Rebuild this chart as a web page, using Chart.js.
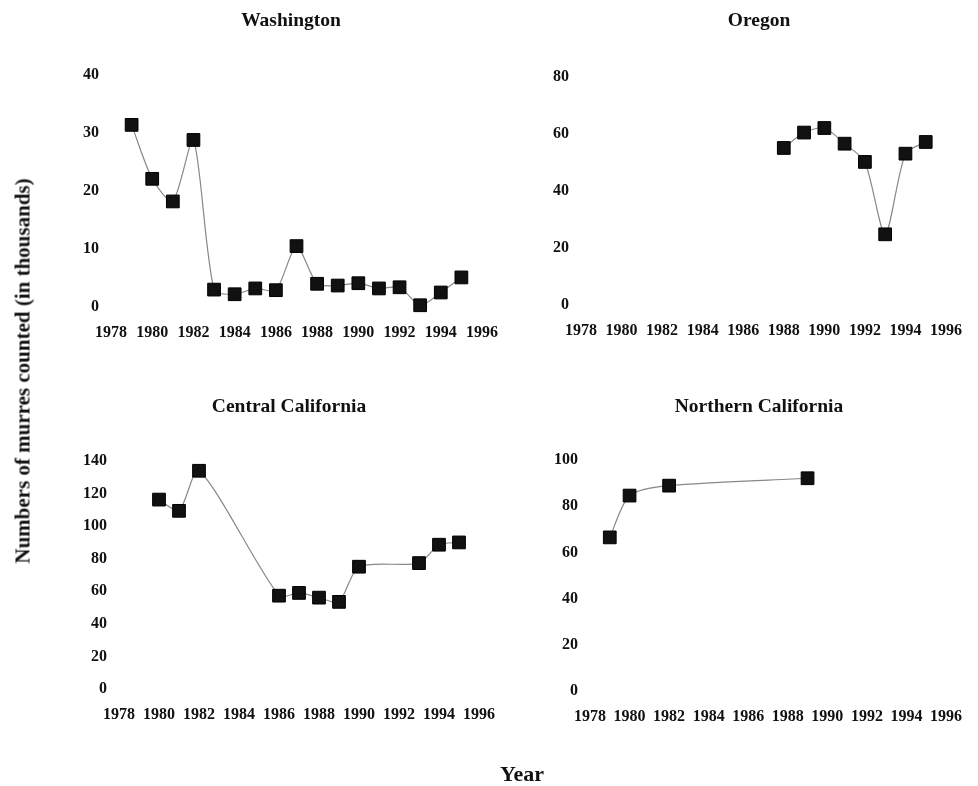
<!DOCTYPE html>
<html>
<head>
<meta charset="utf-8">
<script src="https://cdn.jsdelivr.net/npm/chart.js@4.4.1/dist/chart.umd.min.js"></script>
<style>
  body { margin: 0; background: #fff; }
  #page { position: relative; width: 978px; height: 786px; overflow: hidden; }
  canvas { position: absolute; left: 0; top: 0; }
  .txt { position: absolute; font-family: "Liberation Serif", "DejaVu Serif", serif; font-weight: bold; color: #111; white-space: nowrap; }
  .title { font-size: 19.5px; transform: translate(-50%, -50%); }
</style>
</head>
<body>
<div id="page">
  <canvas id="wa" width="978" height="786"></canvas>
  <canvas id="or" width="978" height="786"></canvas>
  <canvas id="cc" width="978" height="786"></canvas>
  <canvas id="nc" width="978" height="786"></canvas>

  <div class="txt title" style="left:291px; top:20px;">Washington</div>
  <div class="txt title" style="left:759px; top:20px;">Oregon</div>
  <div class="txt title" style="left:289px; top:406px;">Central California</div>
  <div class="txt title" style="left:759px; top:406px;">Northern California</div>

  <div class="txt" style="left:23px; top:371px; font-size:21px; transform: translate(-50%, -50%) rotate(-90deg);">Numbers of murres counted (in thousands)</div>
  <div class="txt" style="left:522px; top:774px; font-size:22px; transform: translate(-50%, -50%);">Year</div>
</div>

<script>
// years on the x axis
var yearMin = 1978;
var yearMax = 1996;
var yearStep = 2;

// Washington
var waYears = [1979, 1980, 1981, 1982, 1983, 1984, 1985, 1986, 1987, 1988, 1989, 1990, 1991, 1992, 1993, 1994, 1995];
var waCounts = [31.4, 22.1, 18.2, 28.8, 3.0, 2.2, 3.2, 2.9, 10.5, 4.0, 3.7, 4.1, 3.2, 3.4, 0.3, 2.5, 5.1];

// Oregon
var orYears = [1988, 1989, 1990, 1991, 1992, 1993, 1994, 1995];
var orCounts = [55.1, 60.5, 62.1, 56.6, 50.2, 24.8, 53.1, 57.2];

// Central California
var ccYears = [1980, 1981, 1982, 1986, 1987, 1988, 1989, 1990, 1993, 1994, 1995];
var ccCounts = [116.3, 109.4, 134.0, 57.3, 59.0, 56.1, 53.5, 75.1, 77.3, 88.6, 90.0];

// Northern California
var ncYears = [1979, 1980, 1982, 1989];
var ncCounts = [66.5, 84.6, 88.9, 92.1];

var W = 978, H = 786;
var yAxisW = 60, xAxisH = 40;
var tickFont = { family: '"Liberation Serif", "DejaVu Serif", serif', size: 16, weight: 'bold' };

function pairs(xs, ys) {
    var pts = [];
    for (var i in xs) {
        pts.push({ x: xs[i], y: ys[i] });
    }
    return pts;
}

// box = where the plot area sits on the page: left, top, right, bottom
function panel(id, xs, ys, yMax, yStep, box)
{
    new Chart(document.getElementById(id), {
        type: 'line',
        data: {
            datasets: [{
                data: pairs(xs, ys),
                borderColor: '#888',
                borderWidth: 1.2,
                tension: 0.25,
                pointStyle: 'rect',
                pointRadius: 9,
                pointHoverRadius: 9,
                pointBackgroundColor: '#111',
                pointBorderColor: '#000',
                pointBorderWidth: 1
            }]
        },
        options: {
            responsive: false,
            animation: false,
            clip: false,
            layout: {
                padding: {
                    left: box[0] - yAxisW,
                    top: box[1],
                    right: W - box[2],
                    bottom: H - box[3] - xAxisH
                }
            },
            plugins: { legend: { display: false }, tooltip: { enabled: false } },
            scales: {
                x: {
                    type: 'linear',
                    min: yearMin,
                    max: yearMax,
                    grid: { display: false, drawTicks: false },
                    border: { display: false },
                    ticks: { stepSize: yearStep, padding: 16, color: '#111', font: tickFont, maxRotation: 0, callback: function (v) { return String(v); } },
                    afterFit: function (s) { s.height = xAxisH; }
                },
                y: {
                    min: 0,
                    max: yMax,
                    grid: { display: false, drawTicks: false },
                    border: { display: false },
                    ticks: { stepSize: yStep, padding: 12, color: '#111', font: tickFont },
                    afterFit: function (s) { s.width = yAxisW; }
                }
            }
        }
    });
}

panel('wa', waYears, waCounts, 40, 10, [111, 75, 482, 307]);
panel('or', orYears, orCounts, 80, 20, [581, 77, 948, 305]);
panel('cc', ccYears, ccCounts, 140, 20, [119, 461, 479, 689]);
panel('nc', ncYears, ncCounts, 100, 20, [590, 460, 947, 691]);
</script>
</body>
</html>
